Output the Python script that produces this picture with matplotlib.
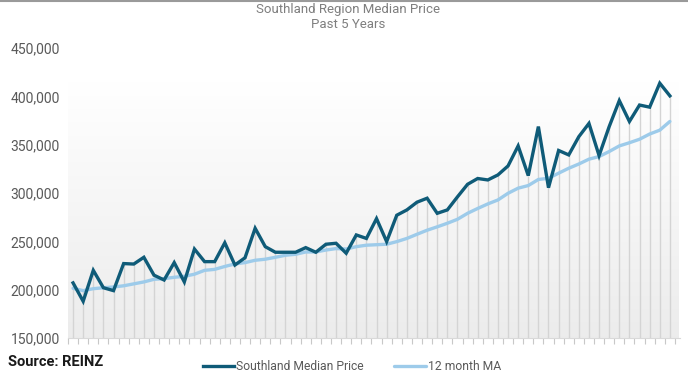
import numpy as np
import matplotlib
matplotlib.use("Agg")
import matplotlib.pyplot as plt
from matplotlib.ticker import FuncFormatter

plt.rcParams['font.family'] = ['Roboto', 'DejaVu Sans']

title = "Southland Region Median Price\nPast 5 Years"
series_names = ["Southland Median Price", "12 month MA"]
months = list(range(60))

median_price = [207000, 188000, 220000, 202000, 199000, 227000, 226500, 233500, 215000, 210000,
                228000, 208000, 242000, 229000, 229000, 248500, 225500, 233000, 263500, 244500,
                238700, 238700, 238700, 243500, 238700, 247000, 248000, 237700, 256600, 253000,
                273500, 249700, 277000, 282500, 290500, 294600, 279000, 282500, 296000, 309000,
                315000, 313500, 318700, 328000, 348700, 318000, 368700, 305500, 344000, 339400,
                358300, 372000, 338700, 368700, 395600, 374000, 391000, 388800, 413600, 400500]

ma12 = [201400, 199000, 201000, 202000, 202800, 204000, 206000, 208000, 210700, 211400,
        212800, 213800, 216000, 220000, 221000, 224000, 226600, 228000, 230400, 231500,
        233500, 235600, 236600, 239000, 239000, 241000, 242500, 242000, 244500, 246000,
        246500, 247000, 249700, 253000, 257300, 261500, 265000, 268700, 272800, 279000,
        284000, 288700, 292800, 299700, 305000, 307700, 314000, 315200, 320500, 325600,
        330000, 335000, 337700, 342900, 348700, 352000, 355600, 361000, 365000, 374000]

y_ticks = [150000, 200000, 250000, 300000, 350000, 400000, 450000]
source_text = "Source: REINZ"

dark = "#0f5b78"
light = "#9dcbea"
text_col = "#595959"

fig = plt.figure(figsize=(6.88, 3.77), dpi=100)
ax = fig.add_axes([68/688, 39/377, (680-68)/688, (338-48)/377])

x = np.array(months)
ax.set_xlim(-0.5, 60.0)
ax.set_ylim(150000, 450000)

# gradient plot-area background
grad = np.linspace(1.0, 0.0, 256).reshape(-1, 1)
top_c = np.array([1.0, 1.0, 1.0])
bot_c = np.array([0.925, 0.925, 0.925])
img = top_c * grad[..., None] + bot_c * (1 - grad[..., None])
img = img.reshape(256, 1, 3)
ax.imshow(img, extent=[-0.5, 59.9, 150000, 414000], aspect='auto', zorder=0, interpolation='bilinear')

# drop lines
tops = np.maximum(median_price, ma12)
ax.vlines(x, 150000, tops, colors="#d4d4d4", linewidth=1.0, zorder=1)

ax.plot(x, ma12, color=light, linewidth=2.4, zorder=3, label=series_names[1], solid_capstyle='round')
ax.plot(x, median_price, color=dark, linewidth=2.4, zorder=4, label=series_names[0], solid_joinstyle='miter')

ax.set_yticks(y_ticks)
ax.yaxis.set_major_formatter(FuncFormatter(lambda v, p: f"{int(v):,}"))
ax.tick_params(axis='y', length=0, labelsize=10, labelcolor=text_col, pad=6)
ax.set_xticks(np.arange(-0.5, 60, 1.0))
ax.set_xticklabels([])
ax.tick_params(axis='x', length=4, color="#c8c8c8", width=0.8)
for s in ['top', 'right', 'left']:
    ax.spines[s].set_visible(False)
ax.spines['bottom'].set_color("#d9d9d9")
ax.spines['bottom'].set_linewidth(0.8)

fig.text(348/688, 1 - 17/377, title, ha='center', va='center', fontsize=9.5, color="#7f7f7f", linespacing=1.2)
fig.text(8/688, 1 - 362/377, source_text, ha='left', va='center', fontsize=10.5, fontweight='bold', color="#1a1a1a")

h, l = ax.get_legend_handles_labels()
leg = fig.legend([h[1], h[0]], [l[1], l[0]], loc='center', bbox_to_anchor=(352/688, 1 - 367/377), ncol=2,
                 frameon=False, fontsize=8.7, labelcolor=text_col, handlelength=2.6, handletextpad=0.2,
                 columnspacing=2.5)

fig.add_artist(plt.Line2D([0, 1], [1 - 1/377, 1 - 1/377], color="#9a9a9a", linewidth=1.5, transform=fig.transFigure))

fig.savefig("out.png", dpi=100)
